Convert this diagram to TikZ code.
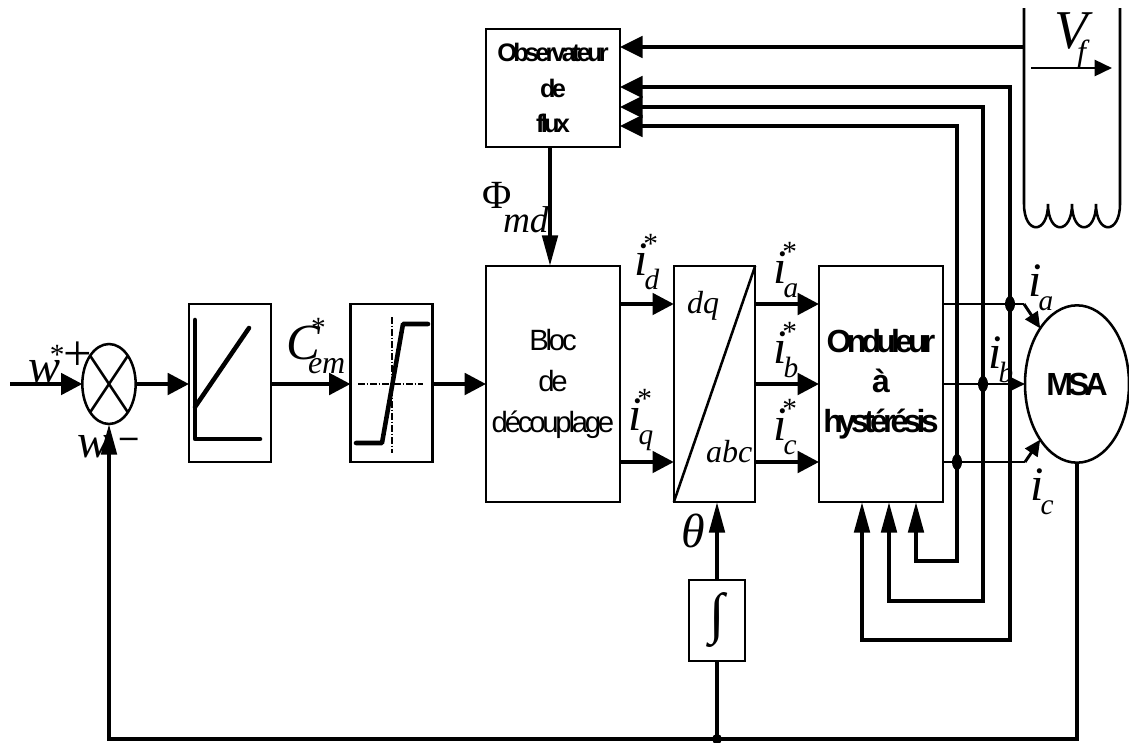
\documentclass[tikz,border=0pt]{standalone}
\usepackage{fontspec}
\setmainfont{Liberation Serif}
\newfontfamily\tightsans[LetterSpace=-11]{Liberation Sans}
\newfontfamily\tightbold[LetterSpace=-15]{Liberation Sans}
\usepackage{tikz}
\usetikzlibrary{positioning,shapes.geometric,arrows.meta}
\pgfdeclarelayer{nodelayer}
\pgfdeclarelayer{edgelayer}
\pgfdeclarelayer{embeded}
\pgfsetlayers{main,edgelayer,nodelayer,embeded}
\tikzstyle{block}=[rectangle, draw=black, line width=1.9pt, fill=white, inner sep=0pt, outer sep=0pt, align=center]
\tikzstyle{sumNode}=[ellipse, draw=black, line width=1.9pt, fill=white, minimum width=40pt, minimum height=60pt, inner sep=0pt, outer sep=0pt]
\tikzstyle{motor}=[ellipse, draw=black, line width=1.9pt, fill=white, minimum width=78pt, minimum height=118pt, inner sep=0pt, outer sep=0pt]
\tikzstyle{sigChan}=[-{Triangle[length=16pt,width=16pt]}, line width=3pt, black]
\tikzstyle{upChan}=[-{Triangle[length=23pt,width=11.5pt]}, line width=3pt, black]
\tikzstyle{busChan}=[{Triangle[length=17pt,width=16pt]}-{Triangle[length=23pt,width=11.5pt]}, line width=3pt, black, line join=miter]
\tikzstyle{thinChan}=[-, line width=2.2pt, black]
\tikzstyle{tinyChan}=[-{Triangle[length=12pt,width=11pt]}, line width=2.2pt, black]
\tikzstyle{curve}=[line width=3.4pt, black, line cap=round, line join=round]
\tikzstyle{axis}=[line width=0.9pt, dash pattern=on 5pt off 1.5pt on 1pt off 1.5pt]
\tikzstyle{dot}=[ellipse, fill=black, minimum width=7.5pt, minimum height=12pt, inner sep=0pt, outer sep=0pt]
\tikzstyle{lab}=[anchor=base west, inner sep=0pt, outer sep=0pt]
\newcommand{\sublab}[3]{\fontsize{36}{36}\selectfont\itshape #1\raisebox{-10.5pt}{\rlap{\kern-2pt\fontsize{22}{22}\selectfont #2}}\raisebox{16.5pt}{\rlap{\kern-3pt\upshape\fontsize{22}{22}\selectfont #3}}}
\newcommand{\curlab}[2]{\fontsize{36}{36}\selectfont\itshape #1\raisebox{-10.5pt}{\rlap{\kern-2pt\fontsize{22}{22}\selectfont #2}}}
\begin{document}
\begin{tikzpicture}[x=0.75pt, y=-0.75pt]
    \useasboundingbox (0,0) rectangle (1129,743);
    \begin{pgfonlayer}{nodelayer}
        \node [style=sumNode] (Sum) at (109, 384) {};
        \node [style=block, minimum width=61.5pt, minimum height=118.5pt] (Reg) at (230, 383) {};
        \node [style=block, minimum width=61.5pt, minimum height=118.5pt] (Sat) at (391.5, 383) {};
        \node [style=block, minimum width=100.5pt, minimum height=177pt, font=\tightsans\fontsize{22}{31}\selectfont] (Bloc) at (553, 384) {Bloc\\de\\découplage};
        \node [style=block, minimum width=61pt, minimum height=177pt] (Park) at (714.5, 384) {};
        \node [style=block, minimum width=93pt, minimum height=177pt, font=\tightbold\bfseries\fontsize{24}{30}\selectfont] (Ond) at (881, 384) {Onduleur\\à\\hystérésis};
        \node [style=block, minimum width=100.5pt, minimum height=88.5pt, font=\tightbold\bfseries\fontsize{19}{26.5}\selectfont] (Obs) at (553, 88) {Observateur\\de\\flux};
        \node [style=block, minimum width=42pt, minimum height=60.75pt, font=\fontsize{42}{42}\selectfont] (Int) at (717, 620.5) {∫};
        \node [style=motor, font=\tightbold\bfseries\fontsize{24}{24}\selectfont] (MSA) at (1077, 384) {MSA};
        \node [style=dot] (DotA) at (1010, 304) {};
        \node [style=dot] (DotB) at (983, 384) {};
        \node [style=dot] (DotC) at (957, 462) {};
        \node [style=dot, minimum width=7.5pt, minimum height=7.5pt] (Tap) at (717, 739) {};
    \end{pgfonlayer}
    \coordinate (WireA) at (1024, 304);
    \coordinate (WireC) at (1025, 462);
    \coordinate (LoopA) at (1010, 640);
    \coordinate (LoopB) at (983, 601);
    \coordinate (LoopC) at (957, 561);
    \coordinate (CoilL) at (1024, 204);
    \coordinate (CoilR) at (1120, 204);
    \coordinate (CoilLtop) at (1024, 8);
    \coordinate (CoilRtop) at (1120, 8);
    \coordinate (CoilTap) at (1024, 47);
    \coordinate (Vstart) at (1031, 68);
    \coordinate (Vend) at (1112, 68);
    \coordinate (Start) at (10, 384);
    \begin{pgfonlayer}{edgelayer}
        \draw [style={sigChan}] (Start) to (Sum.west);
        \draw [style={sigChan}] (Sum.east) to (Reg.west |- Sum.east);
        \draw [style={sigChan}] (Reg.east |- Sum.east) to (Sat.west |- Sum.east);
        \draw [style={sigChan}] (Sat.east |- Sum.east) to (Bloc.west);
        \draw [style={upChan}] ([xshift=-2.25pt]Obs.south) to ([xshift=-2.25pt]Bloc.north);

        \draw [style={sigChan}] ([yshift=60pt]Bloc.east) to ([yshift=60pt]Park.west);
        \draw [style={sigChan}] ([yshift=-58.5pt]Bloc.east) to ([yshift=-58.5pt]Park.west);

        \draw [style={sigChan}] ([yshift=60pt]Park.east) to ([yshift=60pt]Ond.west);
        \draw [style={sigChan}] (Park.east) to (Ond.west);
        \draw [style={sigChan}] ([yshift=-58.5pt]Park.east) to ([yshift=-58.5pt]Ond.west);

        \draw [style={thinChan}] ([yshift=60pt]Ond.east) -- (DotA) -- (WireA);
        \draw [style={tinyChan}] (WireA) to (MSA.north west);
        \draw [style={tinyChan}] (Ond.east) -- (DotB) -- (MSA.west);
        \draw [style={thinChan}] ([yshift=-58.5pt]Ond.east) -- (DotC) -- (WireC);
        \draw [style={tinyChan}] (WireC) to (MSA.south west);

        %bus
        \draw [style={busChan}] ([yshift=0.75pt]Obs.east) -| (LoopA) -| ([xshift=-14.25pt]Ond.south);
        \draw [style={busChan}] ([yshift=-14.25pt]Obs.east) -| (LoopB) -| ([xshift=6pt]Ond.south);
        \draw [style={busChan}] ([yshift=-28.5pt]Obs.east) -| (LoopC) -| ([xshift=26.25pt]Ond.south);
        \draw [-{Triangle[length=17pt,width=16pt]}, line width=3pt] (CoilTap) to ([yshift=30.75pt]Obs.east);

        %feedback
        \draw [style={upChan}] (MSA.south) |- (Tap.center) -| (Sum.south);
        \draw [line width=3pt] (Tap.center) -- (Int.south);
        \draw [style={upChan}] (Int.north) to (Park.south -| Int.north);

        %excitation
        \draw [line width=1.9pt] (CoilLtop) -- (CoilL) .. controls (1024, 235) and (1048, 235) .. (1048, 204) .. controls (1048, 235) and (1072, 235) .. (1072, 204) .. controls (1072, 235) and (1096, 235) .. (1096, 204) .. controls (1096, 235) and (1120, 235) .. (CoilR) -- (CoilRtop);
        \draw [-{Triangle[length=13pt,width=12pt]}, line width=1.9pt] (Vstart) to (Vend);
    \end{pgfonlayer}

    \begin{pgfonlayer}{embeded}
        %sum
        \draw [line width=1.9pt] (Sum.north west) to (Sum.south east);
        \draw [line width=1.9pt] (Sum.north east) to (Sum.south west);

        %gain
        \draw [style=curve] (195, 320) -- (195, 439) -- (260, 439);
        \draw [style=curve] (195, 407) -- (249, 328);

        %saturation
        \draw [style=axis] (358, 384) -- (423, 384);
        \draw [style=axis] (392, 317) -- (392, 453);
        \draw [style=curve] (356, 443) -- (382, 443) -- (403, 324) -- (428, 324);

        %dq abc
        \draw [line width=1.9pt] (Park.south west) -- (Park.north east);

        %labels
        \node [style=lab] (LabW) at (28, 382) {\fontsize{36}{36}\selectfont\itshape w};
        \node [style=lab] (LabStar) at (50, 364) {\fontsize{22}{22}\selectfont *};
        \node [style=lab] (LabPlus) at (63, 370) {\fontsize{38}{38}\selectfont +};
        \node [style=lab] (LabFb) at (77, 457) {\fontsize{36}{36}\selectfont\itshape w};
        \node [style=lab] (LabMinus) at (120, 447) {\fontsize{26}{26}\selectfont\bfseries –};
        \node [style=lab] (LabC) at (286, 359) {\fontsize{38}{38}\selectfont\itshape C};
        \node [style=lab] (LabEm) at (308, 373) {\fontsize{24}{24}\selectfont\itshape em};
        \node [style=lab] (LabCs) at (311, 337) {\fontsize{22}{22}\selectfont *};
        \node [style=lab] (LabPhi) at (482, 208) {\fontsize{30}{30}\selectfont Φ};
        \node [style=lab] (LabMd) at (503, 232) {\fontsize{28}{28}\selectfont\itshape md};
        \node [style=lab] (LabId) at (634, 275) {\sublab{i}{d}{*}};
        \node [style=lab] (LabIq) at (628, 430) {\sublab{i}{q}{*}};
        \node [style=lab] (LabIa) at (773, 283) {\sublab{i}{a}{*}};
        \node [style=lab] (LabIb) at (773, 363) {\sublab{i}{b}{*}};
        \node [style=lab] (LabIc) at (773, 440) {\sublab{i}{c}{*}};
        \node [style=lab] (LabDq) at (687, 313) {\fontsize{24}{24}\selectfont\itshape dq};
        \node [style=lab] (LabAbc) at (706, 462) {\fontsize{24}{24}\selectfont\itshape abc};
        \node [style=lab] (LabMa) at (1028, 296) {\curlab{i}{a}};
        \node [style=lab] (LabMb) at (988, 368) {\curlab{i}{b}};
        \node [style=lab] (LabMc) at (1030, 500) {\curlab{i}{c}};
        \node [style=lab] (LabTh) at (681, 547) {\fontsize{36}{36}\selectfont\itshape θ};
        \node [style=lab] (LabV) at (1054, 48) {\fontsize{41}{41}\selectfont\itshape V};
        \node [style=lab] (LabF) at (1077, 62) {\fontsize{24}{24}\selectfont\itshape f};
    \end{pgfonlayer}
\end{tikzpicture}
\end{document}
